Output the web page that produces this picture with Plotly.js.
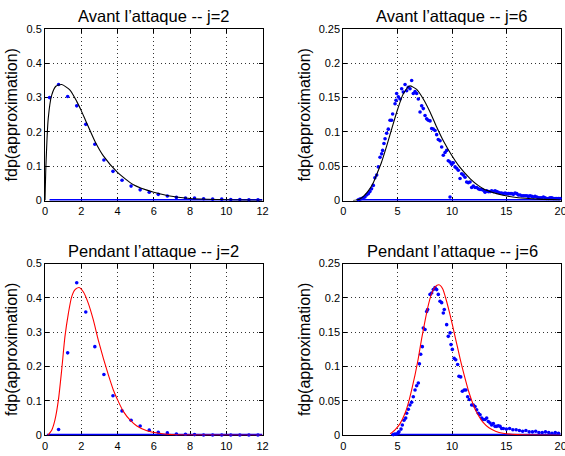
<!DOCTYPE html>
<html>
<head>
<meta charset="utf-8">
<script src="https://cdn.plot.ly/plotly-3.0.1.min.js"></script>
<style>html,body{margin:0;padding:0;background:#fff}#chart{width:565px;height:456px}</style>
</head>
<body>
<div id="chart"></div>
<script>
// ---------- Data ----------
// Panel 1 : Avant l'attaque, j=2
const tlPtsX = [0.25,0.75,1.25,1.75,2.25,2.75,3.25,3.75,4.25,4.75,5.25,5.75,6.25,6.75,7.25,7.75,8.25,8.75,9.25,9.75,10.25,10.75,11.25,11.75];
const tlPtsY = [0.300,0.338,0.303,0.276,0.222,0.164,0.118,0.085,0.059,0.042,0.031,0.024,0.018,0.013,0.009,0.007,0.007,0.005,0.004,0.004,0.003,0.003,0.002,0.002];
const tlCurveX = [0,0.05,0.18,0.37,0.6,0.92,1.38,1.75,2.0,2.25,2.76,3.22,4.0,4.88,6.0,6.8,8,9,10,11,12];
const tlCurveY = [0,0.10,0.24,0.307,0.333,0.338,0.322,0.289,0.262,0.232,0.172,0.130,0.082,0.046,0.024,0.014,0.006,0.0035,0.002,0.001,0.0007];
const tlZeroX = [0.25,12];

// Panel 2 : Avant l'attaque, j=6
const trPtsX = [1.38,1.53,1.68,1.84,1.99,2.14,2.3,2.45,2.6,2.76,2.91,3.07,3.22,3.38,3.53,3.62,3.74,3.84,3.99,4.14,4.30,4.45,4.54,4.76,4.85,4.91,5.06,5.22,5.37,5.52,5.68,5.83,5.98,6.14,6.29,6.44,6.6,6.75,6.9,7.06,7.21,7.36,7.52,7.67,7.82,7.98,8.13,8.28,8.44,8.59,8.74,8.9,9.05,9.2,9.36,9.51,9.66,9.82,9.82,9.97,10.12,10.28,10.43,10.58,10.74,10.89,11.04,11.2,11.35,11.5,11.66,11.81,11.96,12.12,12.27,12.43,12.58,12.73,12.88,13.04,13.19,13.34,13.5,13.65,13.8,13.96,14.11,14.26,14.42,14.57,14.72,14.88,15.03,15.18,15.34,15.5,15.65,15.8,15.96,16.11,16.26,16.42,16.57,16.72,16.88,17.03,17.18,17.34,17.49,17.64,17.8,17.95,18.1,18.26,18.41,18.56,18.72,18.87,19.02,19.18,19.33,19.48,19.64,19.79,19.94];
const trPtsY = [0.001,0.002,0.003,0.004,0.005,0.008,0.010,0.013,0.017,0.022,0.033,0.037,0.049,0.063,0.068,0.073,0.083,0.090,0.098,0.104,0.117,0.117,0.126,0.141,0.146,0.156,0.151,0.148,0.163,0.158,0.169,0.160,0.165,0.163,0.175,0.156,0.159,0.156,0.148,0.129,0.138,0.134,0.124,0.119,0.117,0.116,0.105,0.104,0.102,0.096,0.089,0.087,0.078,0.066,0.070,0.073,0.058,0.056,0.005,0.053,0.055,0.049,0.047,0.044,0.032,0.039,0.037,0.034,0.027,0.026,0.027,0.019,0.021,0.019,0.019,0.017,0.016,0.016,0.015,0.012,0.014,0.013,0.013,0.014,0.013,0.014,0.013,0.012,0.011,0.011,0.010,0.011,0.010,0.010,0.010,0.010,0.009,0.011,0.010,0.008,0.008,0.007,0.007,0.007,0.007,0.006,0.007,0.006,0.005,0.006,0.005,0.004,0.004,0.004,0.005,0.004,0.003,0.003,0.004,0.004,0.003,0.003,0.003,0.003,0.003];
const trCurveX = [0.9,1.5,1.85,2.3,2.76,3.2,3.5,4.0,4.5,5.0,5.5,6.1,6.75,7.36,7.98,8.59,9.2,9.97,10.7,11.66,12.4,13.0,14.6,16.1,18,20];
const trCurveY = [0,0.002,0.006,0.014,0.026,0.043,0.055,0.080,0.107,0.133,0.155,0.167,0.162,0.148,0.129,0.107,0.087,0.066,0.049,0.032,0.022,0.016,0.008,0.004,0.002,0.0008];
const trZeroX = [1.23,20];

// Panel 3 : Pendant l'attaque, j=2
const blPtsX = [0.75,1.25,1.75,2.25,2.75,3.25,3.75,4.25,4.75,5.25,5.75,6.25,6.75,7.25,7.75,8.25,8.75,9.25,9.75,10.25,10.75,11.25,11.75];
const blPtsY = [0.017,0.240,0.444,0.359,0.258,0.177,0.115,0.071,0.044,0.027,0.015,0.009,0.007,0.004,0.003,0.002,0.001,0.001,0.001,0.001,0.001,0.001,0.001];
const blCurveX = [0.15,0.37,0.55,0.74,0.92,1.10,1.29,1.47,1.66,1.88,2.12,2.39,2.67,2.94,3.22,3.5,3.77,4.05,4.33,4.7,5.07,5.62,6.26,7,8,12];
const blCurveY = [0,0.015,0.045,0.103,0.19,0.287,0.355,0.403,0.424,0.430,0.417,0.384,0.335,0.277,0.224,0.175,0.132,0.098,0.069,0.044,0.027,0.013,0.006,0.002,0.0005,0];
const blZeroX = [0.1,12];

// Panel 4 : Pendant l'attaque, j=6
const brPtsX = [4.6,4.75,4.91,5.06,5.12,5.31,5.43,5.58,5.74,5.83,5.98,6.13,6.29,6.44,6.6,6.75,6.9,7.0,7.12,7.27,7.36,7.52,7.67,7.76,7.98,8.13,8.28,8.44,8.59,8.74,8.9,9.05,9.2,9.29,9.51,9.66,9.82,9.91,10.03,10.2,10.34,10.52,10.64,10.8,10.95,11.13,11.28,11.44,11.6,11.81,11.96,12.12,12.27,12.43,12.58,12.73,12.88,13.04,13.19,13.34,13.5,13.65,13.8,13.96,14.11,14.26,14.42,14.57,14.72,15.0,15.3,15.6,15.9,16.2,16.5,16.8,17.1,17.4,17.7,18.0,18.3,18.6,18.9,19.2,19.5,19.8];
const brPtsY = [0.001,0.002,0.002,0.004,0.005,0.009,0.015,0.022,0.025,0.032,0.038,0.044,0.048,0.056,0.066,0.072,0.076,0.104,0.118,0.129,0.156,0.154,0.180,0.183,0.205,0.207,0.212,0.215,0.212,0.205,0.195,0.193,0.178,0.183,0.161,0.144,0.149,0.132,0.125,0.112,0.110,0.103,0.086,0.085,0.064,0.066,0.066,0.056,0.052,0.044,0.044,0.042,0.037,0.032,0.030,0.025,0.023,0.023,0.025,0.020,0.018,0.015,0.017,0.013,0.013,0.014,0.013,0.010,0.010,0.009,0.010,0.008,0.008,0.007,0.006,0.007,0.005,0.005,0.006,0.004,0.004,0.005,0.004,0.003,0.004,0.003];
const brCurveX = [4.3,4.76,5.22,5.68,6.0,6.3,6.6,6.9,7.2,7.5,7.8,8.1,8.45,8.8,9.15,9.45,9.75,10.05,10.35,10.65,10.95,11.25,11.55,11.85,12.15,12.5,12.8,13.4,14.0,14.7,16,20];
const brCurveY = [0.002,0.008,0.017,0.032,0.048,0.067,0.088,0.112,0.140,0.165,0.188,0.205,0.216,0.219,0.213,0.198,0.180,0.160,0.139,0.118,0.098,0.080,0.063,0.049,0.037,0.027,0.020,0.011,0.006,0.003,0.001,0];
const brZeroX = [4.39,20];

// Texts and ticks
const titles = ["Avant l\u2019attaque -- j=2","Avant l\u2019attaque -- j=6","Pendant l\u2019attaque -- j=2","Pendant l\u2019attaque -- j=6"];
const yLabel = "fdp(approximation)";
const xRanges = [[0,12],[0,20],[0,12],[0,20]];
const xDticks = [2,5,2,5];
const yRanges = [[0,0.5],[0,0.25],[0,0.5],[0,0.25]];
const yDticks = [0.1,0.05,0.1,0.05];
const curveColors = ["#000000","#000000","#ff0000","#ff0000"];

// ---------- Build ----------
const FONT = "Liberation Sans, Arial, Helvetica, sans-serif";
const W = 565, H = 456;
const xDom = [[45/W,262.5/W],[343.3/W,560.7/W],[45/W,262.5/W],[343.3/W,560.7/W]];
const yDom = [[(H-200.5)/H,(H-29)/H],[(H-200.5)/H,(H-29)/H],[(H-435.3)/H,(H-263.5)/H],[(H-435.3)/H,(H-263.5)/H]];

const panels = [
  [tlPtsX,tlPtsY,tlCurveX,tlCurveY,tlZeroX],
  [trPtsX,trPtsY,trCurveX,trCurveY,trZeroX],
  [blPtsX,blPtsY,blCurveX,blCurveY,blZeroX],
  [brPtsX,brPtsY,brCurveX,brCurveY,brZeroX]
];

const data = [];
const layout = {
  width: W, height: H,
  margin: {l:0,r:0,t:0,b:0},
  paper_bgcolor: "#fff", plot_bgcolor: "#fff",
  showlegend: false,
  font: {family: FONT, color: "#000", size: 11},
  annotations: []
};

panels.forEach((p, i) => {
  const n = i === 0 ? "" : String(i+1);
  const xa = "x"+n, ya = "y"+n;
  data.push({x: p[4], y: [0,0], xaxis: xa, yaxis: ya, mode: "lines",
             line: {color: "#0000ff", width: 3}, cliponaxis: false, hoverinfo: "skip"});
  data.push({x: p[0], y: p[1], xaxis: xa, yaxis: ya, mode: "markers",
             marker: {color: "#0000ff", size: 3.6}, cliponaxis: false});
  data.push({x: p[2], y: p[3], xaxis: xa, yaxis: ya, mode: "lines",
             line: {color: curveColors[i], width: 1.1, shape: "spline", smoothing: 0.6}});
  const common = {
    showgrid: true, gridcolor: "#333", griddash: "1px,3px", gridwidth: 1,
    zeroline: false, showline: true, linecolor: "#000", linewidth: 1, mirror: "ticks",
    ticks: "inside", ticklen: 4, tickcolor: "#000", tickfont: {family: FONT, size: 11, color: "#000"},
    ticklabeloverflow: "allow", layer: "below traces", fixedrange: true
  };
  layout["xaxis"+n] = Object.assign({}, common, {
    domain: xDom[i], anchor: ya, range: xRanges[i], dtick: xDticks[i], tick0: 0
  });
  layout["yaxis"+n] = Object.assign({}, common, {
    domain: yDom[i], anchor: xa, range: yRanges[i], dtick: yDticks[i], tick0: 0,
    title: {text: yLabel, font: {family: FONT, size: 16, color: "#000"}, standoff: 4}
  });
  layout.annotations.push({
    text: titles[i], xref: "paper", yref: "paper",
    x: (xDom[i][0]+xDom[i][1])/2, y: yDom[i][1], xanchor: "center", yanchor: "bottom",
    yshift: 2, showarrow: false, font: {family: FONT, size: 16.5, color: "#000"}
  });
});

Plotly.newPlot("chart", data, layout, {displayModeBar: false, staticPlot: true});
</script>
</body>
</html>
